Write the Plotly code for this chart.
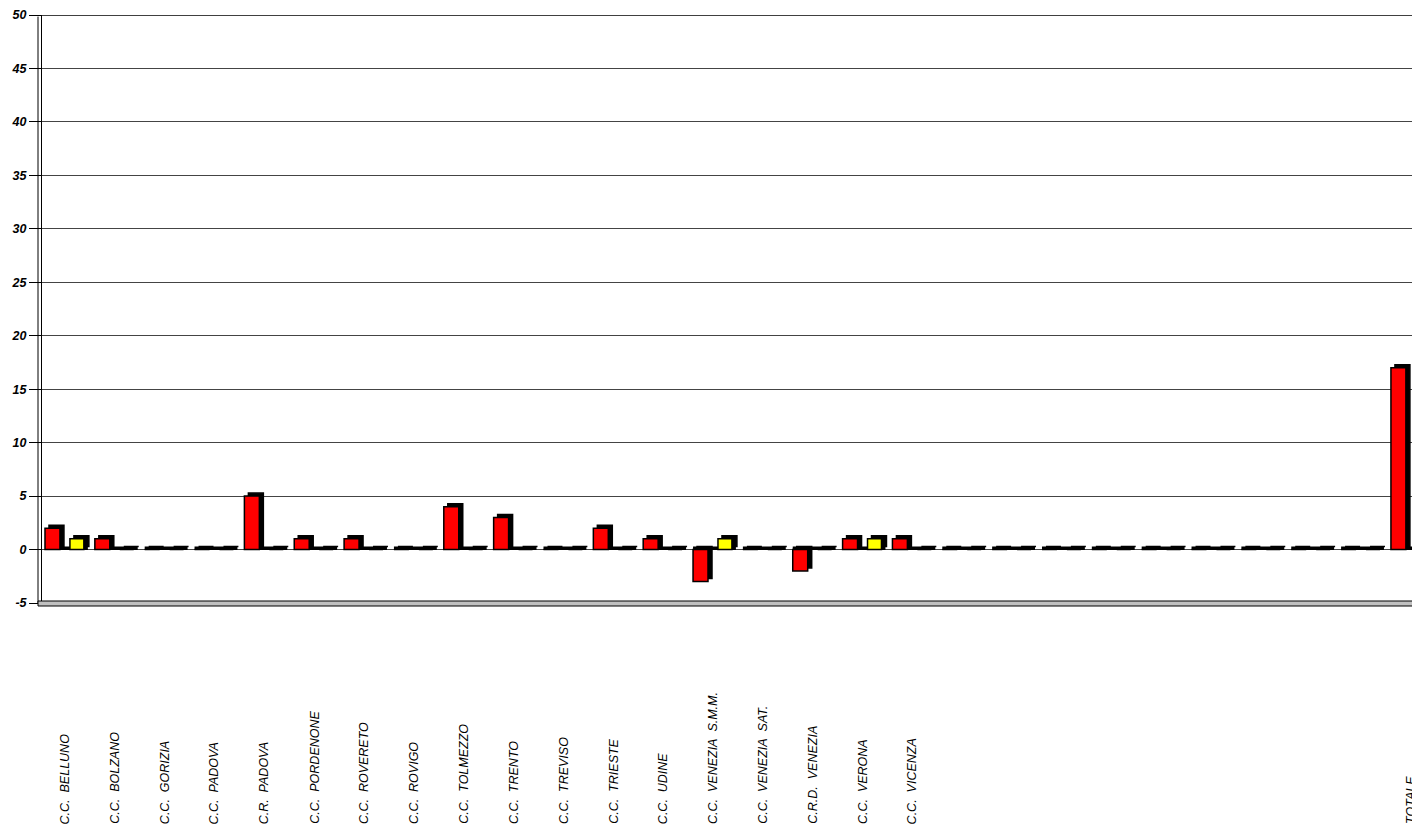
import plotly.graph_objects as go

categories = ["C.C.  BELLUNO", "C.C.  BOLZANO", "C.C.  GORIZIA", "C.C.  PADOVA",
              "C.R.  PADOVA", "C.C.  PORDENONE", "C.C.  ROVERETO", "C.C.  ROVIGO",
              "C.C.  TOLMEZZO", "C.C.  TRENTO", "C.C.  TREVISO", "C.C.  TRIESTE",
              "C.C.  UDINE", "C.C.  VENEZIA  S.M.M.", "C.C.  VENEZIA  SAT.",
              "C.R.D.  VENEZIA", "C.C.  VERONA", "C.C.  VICENZA",
              "", "", "", "", "", "", "", "", "", "TOTALE"]
red_values = [2, 1, 0, 0, 5, 1, 1, 0, 4, 3, 0, 2, 1, -3, 0, -2, 1, 1,
              0, 0, 0, 0, 0, 0, 0, 0, 0, 17]
yellow_values = [1, 0, 0, 0, 0, 0, 0, 0, 0, 0, 0, 0, 0, 1, 0, 0, 1, 0,
                 0, 0, 0, 0, 0, 0, 0, 0, 0, 3]
y_ticks = [-5, 0, 5, 10, 15, 20, 25, 30, 35, 40, 45, 50]

FONT = "Liberation Sans, Arial, sans-serif"
x = list(range(len(categories)))

PAGE = 8  # browser body margin
W, H = 1420 - PAGE, 828 - PAGE
ML, MR, MT = 42 - PAGE, 0, 15 - PAGE
plot_w = W - ML - MR
plot_h = 588
MB = H - MT - plot_h
ymin, ymax = -5, 50
px_per_unit_y = plot_h / (ymax - ymin)
cat_px = 49.85
x0 = -0.46
x1 = x0 + plot_w / cat_px

dx = 4 / cat_px          # 3D depth to the right
dy = 3 / px_per_unit_y   # 3D depth upward

fig = go.Figure()

# group floor (black depth at zero level)
fig.add_trace(go.Bar(x=x, y=[dy + 0.05] * len(x), base=-0.05, width=0.86, offset=-0.40,
                     marker=dict(color="black", line=dict(width=0)),
                     hoverinfo="skip", showlegend=False))

# shadows (depth faces)
for vals, off in ((red_values, -0.40), (yellow_values, 0.10)):
    fig.add_trace(go.Bar(x=x, y=vals, base=[dy] * len(x), width=0.30, offset=off + dx,
                         marker=dict(color="black", line=dict(color="black", width=1.5)),
                         hoverinfo="skip", showlegend=False))

# front faces
fig.add_trace(go.Bar(x=x, y=red_values, width=0.30, offset=-0.40, name="A",
                     marker=dict(color="#FF0000", line=dict(color="black", width=1.5)),
                     showlegend=False))
fig.add_trace(go.Bar(x=x, y=yellow_values, width=0.28, offset=0.10, name="B",
                     marker=dict(color="#FFFF00", line=dict(color="black", width=1.5)),
                     showlegend=False))

shapes = [
    # outer wall line
    dict(type="line", xref="paper", yref="y", x0=-4 / plot_w, x1=-4 / plot_w,
         y0=ymin - 0.2, y1=ymax - 0.15, line=dict(color="black", width=1)),
    # floor band
    dict(type="rect", xref="paper", yref="paper", x0=-4 / plot_w, x1=1,
         y0=-3 / plot_h, y1=2 / plot_h, fillcolor="#c0c0c0",
         line=dict(color="black", width=1), layer="above"),
    # top border
    dict(type="line", xref="paper", yref="y", x0=-4 / plot_w, x1=1, y0=ymax, y1=ymax,
         line=dict(color="black", width=1.5)),
]

label_bottom = 826 - PAGE  # figure-pixel y of the label bottoms
annotations = []
for i, c in enumerate(categories):
    if not c:
        continue
    annotations.append(dict(
        x=i, xref="x", y=-(label_bottom - MT - plot_h) / plot_h, yref="paper",
        text=c.replace(" ", "\u00a0"), textangle=-90, showarrow=False,
        xanchor="center", yanchor="bottom",
        font=dict(family=FONT, size=12.5, color="black", style="italic")))

fig.update_layout(
    width=W, height=H,
    margin=dict(l=ML, r=MR, t=MT, b=MB, pad=0),
    barmode="overlay",
    paper_bgcolor="white", plot_bgcolor="white",
    shapes=shapes, annotations=annotations,
    xaxis=dict(range=[x0, x1], showticklabels=False, showgrid=False,
               zeroline=False, showline=False, ticks=""),
    yaxis=dict(range=[ymin, ymax], tickvals=y_ticks, ticktext=[str(v) for v in y_ticks],
               showgrid=True, gridcolor="#444444", gridwidth=1,
               zeroline=True, zerolinecolor="#444444", zerolinewidth=1,
               showline=True, linecolor="black", linewidth=1,
               ticks="outside", ticklen=12, tickcolor="black", tickwidth=1,
               tickfont=dict(family=FONT, size=12.5, color="black",
                             weight="bold", style="italic")),
    font=dict(family=FONT),
)

fig.write_html("out.html")
